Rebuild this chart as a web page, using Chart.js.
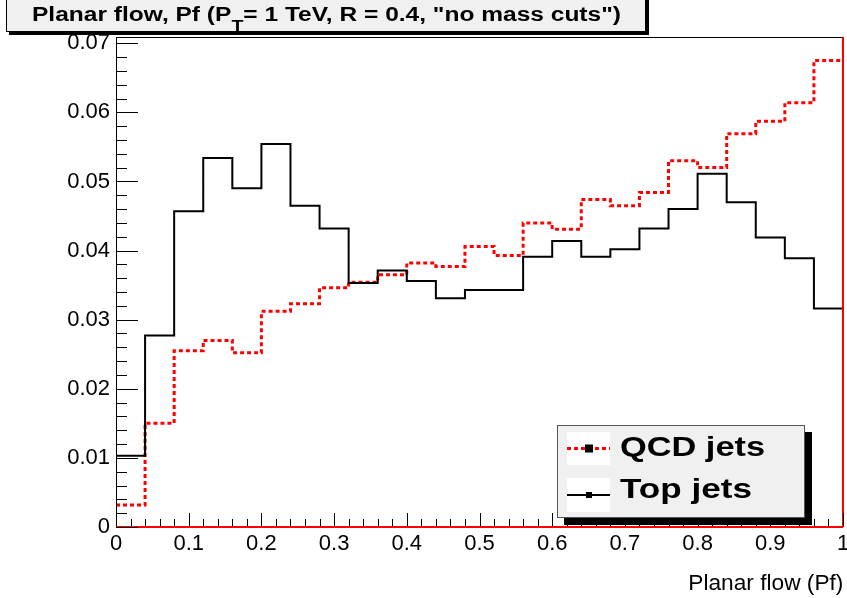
<!DOCTYPE html>
<html>
<head>
<meta charset="utf-8">
<script src="https://cdn.jsdelivr.net/npm/chart.js@4.4.0/dist/chart.umd.min.js"></script>
<style>
  html, body { margin: 0; padding: 0; background: #fff; }
  #wrap { position: relative; width: 847px; height: 598px; overflow: hidden;
          font-family: "Liberation Sans", Arial, Helvetica, sans-serif; color: #000; }
  #chart { position: absolute; left: 0; top: 0; }
  .titlebox { position: absolute; left: 6px; top: -3px; width: 638px; height: 33px;
              background: #f0f0f0; border: 1px solid #000; box-shadow: 3px 3px 0 #000; }
  .titletext { position: absolute; left: 32px; top: 4px; font-size: 20px; font-weight: bold;
               line-height: 20px; white-space: nowrap; transform-origin: 0 0; }
  .titletext sub { font-size: 16px; vertical-align: -11px; line-height: 0; }
  .legbox { position: absolute; left: 557px; top: 425px; width: 246px; height: 91px;
            background: #f0f0f0; border: 1px solid #555; box-shadow: 7px 7px 0 #000; }
  .legtext { position: absolute; left: 620px; font-size: 27px; font-weight: bold;
             line-height: 27px; white-space: nowrap; transform-origin: 0 0; }
  .axtitle { position: absolute; right: 4px; top: 572px; font-size: 22px; line-height: 22px;
             white-space: nowrap; transform-origin: 100% 0; }
  svg.leg { position: absolute; left: 0; top: 0; }
</style>
</head>
<body>
<div id="wrap">
  <canvas id="chart" width="847" height="598"></canvas>
  <div class="titlebox"></div>
  <div class="titletext" id="title" data-w="589">Planar flow, Pf (P<sub>T</sub>= 1 TeV, R = 0.4, "no mass cuts")</div>
  <div class="legbox"></div>
  <svg class="leg" width="847" height="598">
    <rect x="567" y="432" width="43" height="33" fill="#fff"/>
    <line x1="567" y1="448.5" x2="610" y2="448.5" stroke="#ff0000" stroke-width="3" stroke-dasharray="4 3"/>
    <rect x="585" y="444.5" width="8" height="8" fill="#000"/>
    <rect x="567" y="478" width="43" height="34" fill="#fff"/>
    <line x1="567" y1="495" x2="610" y2="495" stroke="#000" stroke-width="2"/>
    <rect x="586" y="492" width="6" height="6" fill="#000"/>
  </svg>
  <div class="legtext" id="leg1" style="top:434px" data-w="145">QCD jets</div>
  <div class="legtext" id="leg2" style="top:476px" data-w="132">Top jets</div>
  <div class="axtitle" id="axt" data-w="155">Planar flow (Pf)</div>
</div>
<script>
  // bin lower edges (bin width 0.04), plus the upper end of the last bin
  const binEdges = [0, 0.04, 0.08, 0.12, 0.16, 0.2, 0.24, 0.28, 0.32, 0.36, 0.4, 0.44, 0.48,
                    0.52, 0.56, 0.6, 0.64, 0.68, 0.72, 0.76, 0.8, 0.84, 0.88, 0.92, 0.96];
  const xEnd = 1;

  const qcdValues = [0.0032, 0.0150, 0.0255, 0.0270, 0.0252, 0.0312, 0.0323, 0.0346, 0.0354,
                     0.0365, 0.0382, 0.0377, 0.0406, 0.0393, 0.0440, 0.0431, 0.0474, 0.0465,
                     0.0484, 0.0530, 0.0520, 0.0569, 0.0587, 0.0614, 0.0675];
  const topValues = [0.0103, 0.0277, 0.0457, 0.0534, 0.0490, 0.0554, 0.0465, 0.0432, 0.0353,
                     0.0371, 0.0356, 0.0331, 0.0343, 0.0343, 0.0391, 0.0414, 0.0391, 0.0402,
                     0.0432, 0.0460, 0.0511, 0.0470, 0.0419, 0.0389, 0.0316];

  const xTickValues = [0, 0.1, 0.2, 0.3, 0.4, 0.5, 0.6, 0.7, 0.8, 0.9, 1];
  const xTickLabels = ['0', '0.1', '0.2', '0.3', '0.4', '0.5', '0.6', '0.7', '0.8', '0.9', '1'];
  const yTickValues = [0, 0.01, 0.02, 0.03, 0.04, 0.05, 0.06, 0.07];
  const yTickLabels = ['0', '0.01', '0.02', '0.03', '0.04', '0.05', '0.06', '0.07'];
  const yMax = 0.0709;

  function histPoints(values) {
    const pts = values.map((v, i) => ({ x: binEdges[i], y: v }));
    pts.push({ x: xEnd, y: values[values.length - 1] });
    return pts;
  }

  // ROOT style frame: ticks pointing inwards, minor ticks, red right/bottom edge
  const frameAndTicks = {
    id: 'frameAndTicks',
    afterDraw(chart) {
      const ctx = chart.ctx;
      const a = chart.chartArea;
      const xs = chart.scales.x;
      const ys = chart.scales.y;
      ctx.save();
      ctx.setLineDash([]);
      ctx.fillStyle = '#000';
      ctx.fillRect(Math.round(a.left), Math.round(a.top), 1, Math.round(a.bottom - a.top));
      ctx.fillRect(Math.round(a.left), Math.round(a.top), Math.round(a.right - a.left), 1);

      ctx.fillStyle = '#ff0000';
      ctx.fillRect(Math.round(a.left), Math.round(a.bottom) - 1, Math.round(a.right - a.left), 2);
      ctx.fillRect(Math.round(a.right) - 1, Math.round(a.top), 2, Math.round(a.bottom - a.top));

      ctx.fillStyle = '#000';
      for (let i = 0; i <= 50; i++) {
        const px = Math.round(xs.getPixelForValue(i * 0.02));
        const len = i % 5 === 0 ? 13 : 7;
        ctx.fillRect(px, Math.round(a.bottom) - 1 - len, 1, len);
      }
      for (let i = 0; i <= 35; i++) {
        const py = Math.round(ys.getPixelForValue(i * 0.002));
        const len = i % 5 === 0 ? 22 : 11;
        ctx.fillRect(Math.round(a.left), py, len, 1);
      }
      ctx.restore();
    }
  };

  const tickFont = { family: 'Liberation Sans', size: 22 };

  new Chart(document.getElementById('chart'), {
    type: 'line',
    data: {
      datasets: [
        {
          label: 'Top jets',
          data: histPoints(topValues),
          borderColor: '#000',
          borderWidth: 2,
          stepped: true,
          pointRadius: 0,
          fill: false,
          order: 1
        },
        {
          label: 'QCD jets',
          data: histPoints(qcdValues),
          borderColor: '#ff0000',
          borderWidth: 3,
          borderDash: [4, 3],
          stepped: true,
          pointRadius: 0,
          fill: false,
          order: 2
        }
      ]
    },
    options: {
      responsive: false,
      animation: false,
      layout: { padding: { top: 37, right: 4, left: 0, bottom: 0 } },
      plugins: { legend: { display: false }, tooltip: { enabled: false } },
      scales: {
        x: {
          type: 'linear',
          min: 0,
          max: 1,
          grid: { display: false, drawTicks: false },
          border: { display: false },
          afterBuildTicks: s => { s.ticks = xTickValues.map(v => ({ value: v })); },
          afterFit: s => { s.height = 71; s.paddingLeft = 0; s.paddingRight = 0; },
          ticks: {
            autoSkip: false,
            maxRotation: 0,
            padding: 4,
            color: '#000',
            font: tickFont,
            callback: (v, i) => xTickLabels[i]
          }
        },
        y: {
          min: 0,
          max: yMax,
          grid: { display: false, drawTicks: false },
          border: { display: false },
          afterBuildTicks: s => { s.ticks = yTickValues.map(v => ({ value: v })); },
          afterFit: s => { s.width = 116; },
          ticks: {
            padding: 6,
            color: '#000',
            font: tickFont,
            callback: (v, i) => yTickLabels[i]
          }
        }
      }
    },
    plugins: [frameAndTicks]
  });

  // stretch the texts horizontally to the widths seen in the reference
  ['title', 'leg1', 'leg2', 'axt'].forEach(id => {
    const el = document.getElementById(id);
    const w = el.getBoundingClientRect().width;
    el.style.transform = 'scaleX(' + (parseFloat(el.dataset.w) / w).toFixed(3) + ')';
  });
</script>
</body>
</html>
